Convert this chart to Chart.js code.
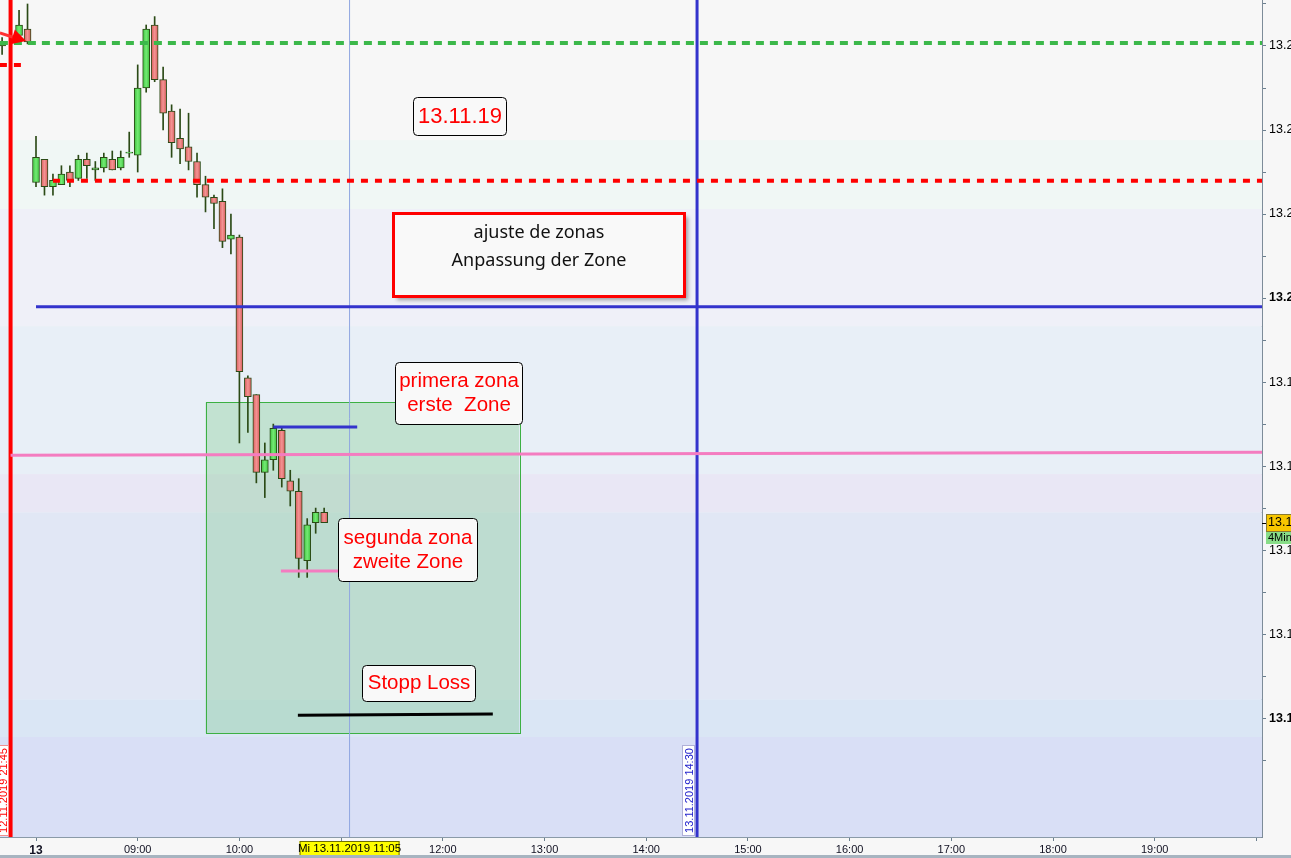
<!DOCTYPE html>
<html>
<head>
<meta charset="utf-8">
<script src="https://cdn.jsdelivr.net/npm/chart.js@4.4.0/dist/chart.umd.min.js"></script>
<style>
html, body { margin: 0; padding: 0; background: #f7f7f7; overflow: hidden; }
canvas { display: block; }
</style>
</head>
<body>
<canvas id="chart" width="1320" height="858"></canvas>
<script>
// 5 minute candles, time = minutes after 08:00 on 13.11.2019 (negative = end of previous session)
const candleTimes = [-20, -10, -5, 0, 5, 10, 15, 20, 25, 30, 35, 40, 45, 50, 55, 60, 65, 70, 75, 80,
    85, 90, 95, 100, 105, 110, 115, 120, 125, 130, 135, 140, 145, 150, 155, 160, 165, 170];
const opens = [13260, 13262.5, 13264, 13227.5, 13233, 13226.5, 13227, 13230, 13228.5, 13233, 13230.5, 13231,
    13233, 13231, 13234.5, 13234, 13250, 13265, 13252, 13244.5, 13238, 13236, 13232.5, 13227, 13224, 13223,
    13214, 13214.5, 13181, 13177, 13158.5, 13161.5, 13168.5, 13156.5, 13154, 13137.5, 13146.5, 13149];
const highs = [13262, 13268.5, 13270, 13238.5, 13233, 13229.5, 13231.5, 13231.5, 13234, 13234.5, 13232.5, 13234.5,
    13235, 13235, 13239.5, 13255.5, 13265, 13267, 13255, 13246, 13245, 13244, 13234.5, 13229, 13224.5, 13226,
    13220, 13215, 13181.5, 13177, 13165.5, 13170, 13169, 13159, 13157, 13147.5, 13150, 13150];
const lows = [13258, 13261.5, 13260.5, 13226.5, 13224.5, 13224.5, 13227, 13226.5, 13228, 13228.5, 13228, 13230,
    13230.5, 13230.5, 13233.5, 13230, 13249, 13251.5, 13240, 13233.5, 13232, 13230.5, 13224, 13220.5, 13216.5, 13212,
    13210.5, 13165.5, 13168, 13156, 13152.5, 13159, 13155, 13150.5, 13133.5, 13133.5, 13144, 13146.5];
const closes = [13261, 13265, 13261, 13233.5, 13226.5, 13228, 13229.5, 13228, 13233, 13231.5, 13231, 13233.5,
    13230.5, 13233.5, 13234.5, 13250, 13264, 13252, 13244, 13237, 13235.5, 13232.5, 13227, 13224, 13222.5, 13213.5,
    13215, 13182.5, 13176.5, 13158.5, 13161.5, 13169, 13157, 13154, 13138, 13146, 13149, 13146.5];

// horizontal drawings (time from/to, price at start/end)
const levelFrom  = [-21.3, -21.3, 10, 0, -15, 140, 144.5, 154.5];
const levelTo    = [723.3, -5, 723.3, 723.3, 723.3, 189.5, 179.5, 269.5];
const levelStart = [13260.7, 13255.5, 13227.9, 13197.9, 13162.6, 13169.3, 13135, 13100.7];
const levelEnd   = [13260.7, 13255.5, 13227.9, 13197.9, 13163.3, 13169.3, 13135, 13101];

// vertical markers
const markerTimes  = [-15, 185, 390];
const markerLabels = ['12.11.2019 21:45', 'Mi 13.11.2019 11:05', '13.11.2019 14:30'];

// zone box
const zoneTime  = [100, 285];
const zonePrice = [13096.4, 13175.2];

// text notes
const noteTexts = [['13.11.19'], ['ajuste de zonas', 'Anpassung der Zone'], ['primera zona', 'erste  Zone'],
    ['segunda zona', 'zweite Zone'], ['Stopp Loss']];
const noteTime  = [[222.4, 277.3], [210.6, 382.3], [211.8, 286.7], [178.2, 260.2], [192.3, 259]];
const notePrice = [[13247.9, 13238.8], [13220.2, 13200.5], [13184.8, 13170], [13147.6, 13132.6], [13112.6, 13104]];

// arrow at the start of the chart
const arrowTime  = [-21.3, -5.9];
const arrowPrice = [13263.1, 13261.2];

// background bands (price edges, top to bottom)
const bandEdges  = [13237.6, 13221.2, 13193.3, 13158.1, 13149, 13104.5, 13095.5];
const bandColors = ['#f7f7f7', '#f0f7f5', '#eff0f8', '#e8eff7', '#e9e7f5', '#e1e7f5', '#dae6f5', '#d9dff6'];

const hourLabels = ['13', '09:00', '10:00', '11:00', '12:00', '13:00', '14:00', '15:00', '16:00', '17:00', '18:00', '19:00', ''];
const timeframe = '4Min';

const T_MIN = -21.24, T_MAX = 723.3, P_MIN = 13071.7, P_MAX = 13270.95;
const ARIAL = '"Liberation Sans", Arial, sans-serif';

const levelStyles = [
    { color: '#3cb84a', width: 4, dash: [8, 6] },
    { color: '#ff0000', width: 4, dash: [7, 7] },
    { color: '#ff0000', width: 4, dash: [7, 7] },
    { color: '#3333cc', width: 3, dash: [] },
    { color: '#f47cc0', width: 3, dash: [] },
    { color: '#3333cc', width: 3, dash: [] },
    { color: '#f47cc0', width: 3, dash: [] },
    { color: '#000000', width: 3, dash: [] }
];
const markerStyles = [
    { color: '#ff0000', width: 4 },
    { color: '#8fa6e0', width: 1 },
    { color: '#3333cc', width: 3 }
];

const isUp = candleTimes.map((t, i) => closes[i] >= opens[i]);

// body fill: lighter in the middle, like the platform's candles
function bodyFill(c) {
    const chart = c.chart, i = c.dataIndex;
    const up = isUp[i];
    const solid = up ? '#52d352' : '#e46e6e';
    const sx = chart.scales && chart.scales.x;
    if (!sx || i === undefined) return solid;
    const px = sx.getPixelForValue(candleTimes[i]);
    if (!isFinite(px)) return solid;
    const g = chart.ctx.createLinearGradient(px - 3.5, 0, px + 3.5, 0);
    g.addColorStop(0, up ? '#3cc23c' : '#d85a5a');
    g.addColorStop(0.5, up ? '#74ea74' : '#f39393');
    g.addColorStop(1, up ? '#3cc23c' : '#d85a5a');
    return g;
}

const datasets = [];
levelFrom.forEach((f, i) => {
    datasets.push({
        type: 'line',
        data: [{ x: f, y: levelStart[i] }, { x: levelTo[i], y: levelEnd[i] }],
        borderColor: levelStyles[i].color,
        borderWidth: levelStyles[i].width,
        borderDash: levelStyles[i].dash,
        borderCapStyle: 'butt',
        pointRadius: 0,
        order: 0
    });
});
markerTimes.forEach((t, i) => {
    datasets.push({
        type: 'line',
        data: [{ x: t, y: P_MIN }, { x: t, y: P_MAX }],
        borderColor: markerStyles[i].color,
        borderWidth: markerStyles[i].width,
        pointRadius: 0,
        order: i === 1 ? 3 : 0
    });
});
// wicks
datasets.push({
    type: 'bar',
    data: candleTimes.map((t, i) => ({ x: t, y: [lows[i], highs[i]] })),
    backgroundColor: '#2b4a16',
    barThickness: 1,
    grouped: false,
    order: 2
});
// bodies
datasets.push({
    type: 'bar',
    data: candleTimes.map((t, i) => ({ x: t, y: [opens[i], closes[i]] })),
    backgroundColor: bodyFill,
    borderColor: '#2b4a16',
    borderWidth: 1,
    borderSkipped: false,
    barThickness: 7,
    minBarLength: 1,
    grouped: false,
    order: 1
});

const noPad = s => { s.paddingTop = 0; s.paddingBottom = 0; s.paddingLeft = 0; s.paddingRight = 0; };

const drawing = {
    id: 'drawing',
    beforeDatasetsDraw(chart) {
        const { ctx, chartArea: a, scales: { x, y } } = chart;
        ctx.save();
        for (let i = 0; i < bandColors.length; i++) {
            const top = i === 0 ? a.top : y.getPixelForValue(bandEdges[i - 1]);
            const bot = i === bandEdges.length ? a.bottom : y.getPixelForValue(bandEdges[i]);
            ctx.fillStyle = bandColors[i];
            ctx.fillRect(a.left, top, a.right - a.left, bot - top);
        }
        const x0 = x.getPixelForValue(zoneTime[0]), x1 = x.getPixelForValue(zoneTime[1]);
        const y0 = y.getPixelForValue(zonePrice[1]), y1 = y.getPixelForValue(zonePrice[0]);
        ctx.fillStyle = 'rgba(105,196,124,0.3)';
        ctx.fillRect(x0, y0, x1 - x0, y1 - y0);
        ctx.strokeStyle = '#3cb043';
        ctx.lineWidth = 1;
        ctx.strokeRect(Math.round(x0) + 0.5, Math.round(y0) + 0.5, Math.round(x1 - x0), Math.round(y1 - y0));
        ctx.restore();
    },
    afterDatasetsDraw(chart) {
        const { ctx, scales: { x, y } } = chart;
        ctx.save();
        // arrow
        const ax0 = x.getPixelForValue(arrowTime[0]), ay0 = y.getPixelForValue(arrowPrice[0]);
        const ax1 = x.getPixelForValue(arrowTime[1]), ay1 = y.getPixelForValue(arrowPrice[1]);
        const ang = Math.atan2(ay1 - ay0, ax1 - ax0);
        ctx.strokeStyle = '#ff3030';
        ctx.lineWidth = 3;
        ctx.beginPath(); ctx.moveTo(ax0, ay0); ctx.lineTo(ax1 - 6, ay1 - 1.5); ctx.stroke();
        ctx.fillStyle = '#ff0000';
        ctx.beginPath();
        ctx.moveTo(ax1, ay1);
        ctx.lineTo(ax1 - 16 * Math.cos(ang - 0.5), ay1 - 16 * Math.sin(ang - 0.5));
        ctx.lineTo(ax1 - 16 * Math.cos(ang + 0.5), ay1 - 16 * Math.sin(ang + 0.5));
        ctx.closePath(); ctx.fill();

        // notes
        noteTexts.forEach((lines, i) => {
            const bx0 = Math.round(x.getPixelForValue(noteTime[i][0])) + 0.5;
            const bx1 = Math.round(x.getPixelForValue(noteTime[i][1])) + 0.5;
            const by0 = Math.round(y.getPixelForValue(notePrice[i][0])) + 0.5;
            const by1 = Math.round(y.getPixelForValue(notePrice[i][1])) + 0.5;
            const big = i === 1;
            ctx.save();
            if (big) {
                ctx.shadowColor = 'rgba(0,0,0,0.35)';
                ctx.shadowOffsetX = 3; ctx.shadowOffsetY = 3; ctx.shadowBlur = 4;
            }
            ctx.fillStyle = '#f9f9f9';
            ctx.beginPath();
            ctx.roundRect(bx0, by0, bx1 - bx0, by1 - by0, big ? 0 : 4);
            ctx.fill();
            ctx.restore();
            ctx.strokeStyle = big ? '#ff0000' : '#000000';
            ctx.lineWidth = big ? 3 : 1;
            ctx.beginPath();
            ctx.roundRect(bx0, by0, bx1 - bx0, by1 - by0, big ? 0 : 4);
            ctx.stroke();
            ctx.fillStyle = big ? '#111111' : '#ff0000';
            ctx.font = big ? '18px "Noto Sans", sans-serif' : (i === 0 ? '22px ' + ARIAL : '20.5px ' + ARIAL);
            ctx.textAlign = 'center';
            ctx.textBaseline = 'middle';
            const cx = (bx0 + bx1) / 2;
            if (big) {
                lines.forEach((txt, k) => ctx.fillText(txt, cx, by0 + 19 + k * 28));
            } else {
                const cy = (by0 + by1) / 2;
                lines.forEach((txt, k) => ctx.fillText(txt, cx, cy + (k - (lines.length - 1) / 2) * 24));
            }
        });
        ctx.restore();
    },
    afterDraw(chart) {
        const { ctx, chartArea: a, scales: { x, y } } = chart;
        ctx.save();
        ctx.font = '11px ' + ARIAL;
        ctx.textBaseline = 'middle';
        ctx.textAlign = 'center';

        // rotated marker labels
        const rotated = (px, text, color, border) => {
            const h = 91, w = 13;
            const top = a.bottom - h - 1;
            ctx.fillStyle = '#ffffff';
            ctx.fillRect(px - w, top, w, h);
            ctx.strokeStyle = border;
            ctx.lineWidth = 1;
            ctx.strokeRect(px - w + 0.5, top + 0.5, w - 1, h - 1);
            ctx.save();
            ctx.translate(px - w / 2, top + h / 2);
            ctx.rotate(-Math.PI / 2);
            ctx.fillStyle = color;
            ctx.fillText(text, 0, 1);
            ctx.restore();
        };
        rotated(Math.round(x.getPixelForValue(markerTimes[0])) - 2, markerLabels[0], '#ff0000', '#f09090');
        rotated(Math.round(x.getPixelForValue(markerTimes[2])) - 2, markerLabels[2], '#2222cc', '#b0b0d8');

        // crosshair time label
        const cxp = x.getPixelForValue(markerTimes[1]);
        ctx.fillStyle = '#ffff00';
        ctx.fillRect(cxp - 50, a.bottom + 4, 100, 15);
        ctx.strokeStyle = '#707000';
        ctx.strokeRect(cxp - 49.5, a.bottom + 4.5, 99, 14);
        ctx.fillStyle = '#000000';
        ctx.font = '11.5px ' + ARIAL;
        ctx.fillText(markerLabels[1], cxp, a.bottom + 12);

        // last price + timeframe on the price axis
        const last = closes[closes.length - 1];
        const py = Math.round(y.getPixelForValue(last));
        ctx.fillStyle = '#000000';
        ctx.fillRect(a.right, py, 5, 1);
        ctx.fillStyle = '#f7c600';
        ctx.fillRect(a.right + 4, py - 9, 60, 18);
        ctx.strokeStyle = '#8a7a30';
        ctx.strokeRect(a.right + 4.5, py - 8.5, 60, 17);
        ctx.fillStyle = '#88dd88';
        ctx.fillRect(a.right + 4, py + 9, 60, 12);
        ctx.textAlign = 'left';
        ctx.fillStyle = '#000000';
        ctx.font = '12.5px ' + ARIAL;
        ctx.fillText((last / 1000).toFixed(3), a.right + 6, py);
        ctx.font = '11px ' + ARIAL;
        ctx.fillText(timeframe, a.right + 6, py + 15);

        // bottom strip
        ctx.fillStyle = '#a7b4c0';
        ctx.fillRect(0, 855, chart.width, 3);
        ctx.restore();
    }
};

new Chart(document.getElementById('chart'), {
    data: { datasets },
    options: {
        responsive: false,
        animation: false,
        devicePixelRatio: 1,
        layout: { padding: 0 },
        plugins: { legend: { display: false }, tooltip: { enabled: false } },
        scales: {
            x: {
                type: 'linear',
                offset: false,
                min: T_MIN,
                max: T_MAX,
                afterFit: s => { s.height = 21; noPad(s); },
                grid: { offset: false, drawOnChartArea: false, tickLength: 4, tickColor: '#6b7f8f' },
                border: { color: '#8a9aa8', width: 2 },
                ticks: {
                    stepSize: 60,
                    includeBounds: false,
                    autoSkip: false,
                    maxRotation: 0,
                    padding: 2,
                    color: '#111122',
                    font: c => ({ family: ARIAL, size: c.tick && c.tick.value === 0 ? 12 : 11,
                        weight: c.tick && c.tick.value === 0 ? 'bold' : 'normal' }),
                    callback: v => hourLabels[Math.round(v / 60)] ?? ''
                }
            },
            y: {
                type: 'linear',
                position: 'right',
                min: P_MIN,
                max: P_MAX,
                afterFit: s => { s.width = 58; noPad(s); },
                grid: {
                    drawOnChartArea: false, tickLength: 4,
                    tickColor: c => (c.tick && c.tick.value < 13090 ? 'rgba(0,0,0,0)' : '#6b7f8f')
                },
                border: { color: '#7d8c99', width: 2 },
                ticks: {
                    stepSize: 10,
                    includeBounds: false,
                    autoSkip: false,
                    padding: 3,
                    color: '#000000',
                    font: c => ({ family: ARIAL, size: 12.5,
                        weight: c.tick && Math.round(c.tick.value) % 100 === 0 ? 'bold' : 'normal' }),
                    callback: v => {
                        const r = Math.round(v);
                        return (r % 20 === 0 && r >= 13090) ? (r / 1000).toFixed(3) : '';
                    }
                }
            }
        }
    },
    plugins: [drawing]
});
</script>
</body>
</html>
